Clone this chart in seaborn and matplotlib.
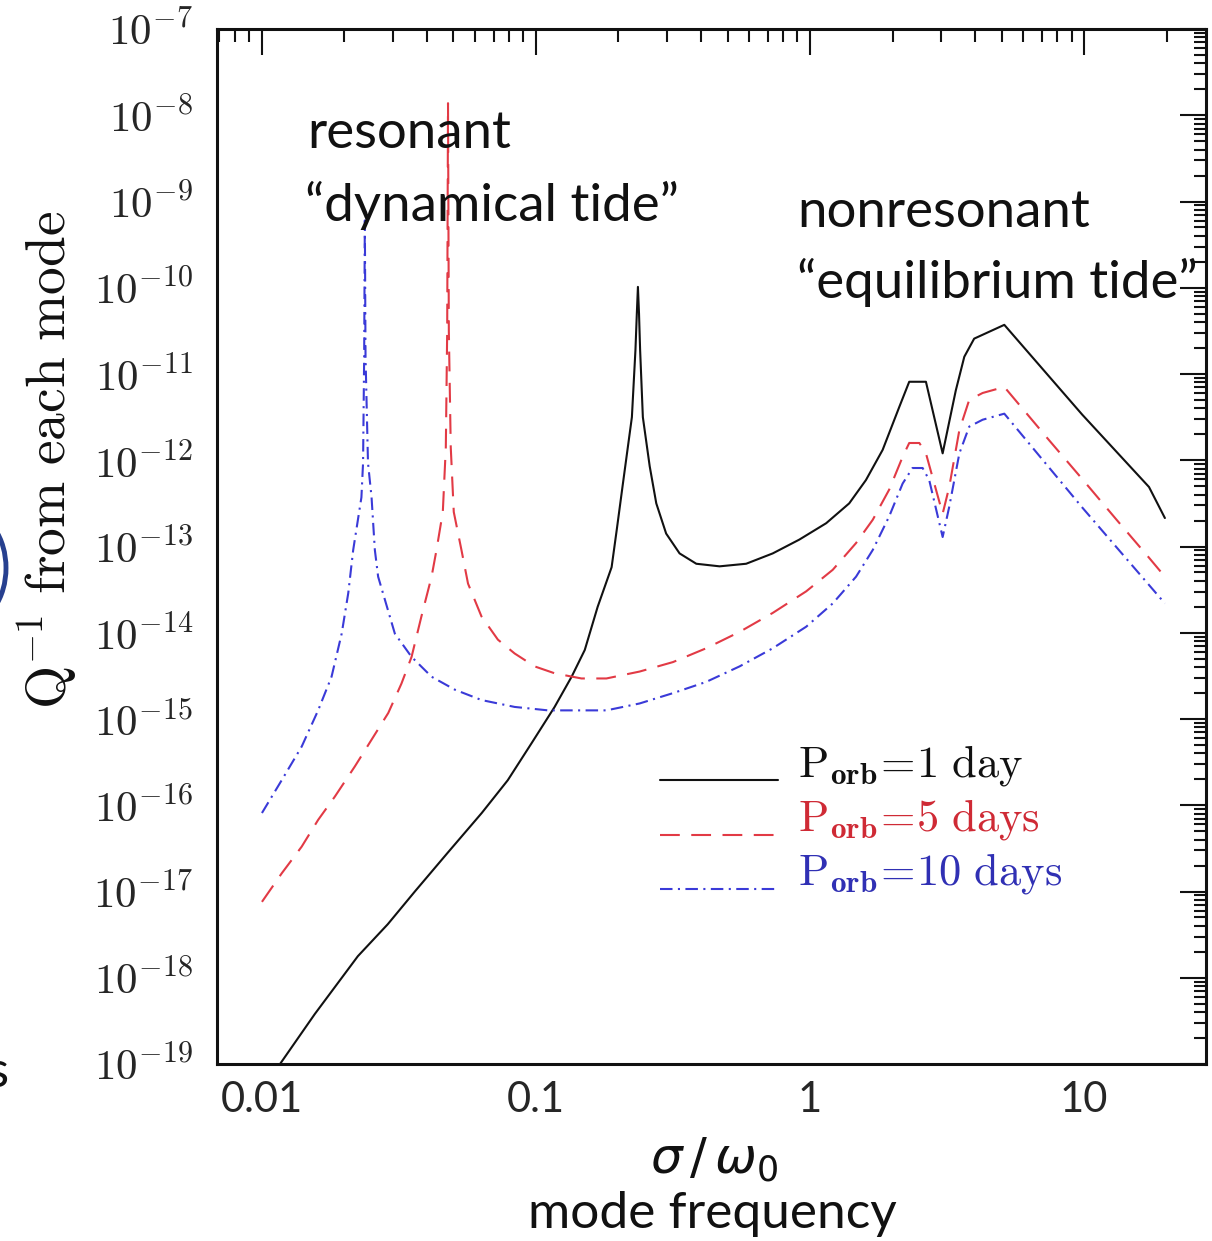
import numpy as np
import pandas as pd
import matplotlib
matplotlib.use("Agg")
import matplotlib.pyplot as plt
import seaborn as sns
from matplotlib.ticker import LogLocator, NullFormatter
from matplotlib.patches import Ellipse
from matplotlib.legend_handler import HandlerLine2D

# Curves stored as log10(sigma/omega0) and log10(Q^-1) for each orbital period
logx_1day = [-2.000, -1.934, -1.807, -1.650, -1.541, -1.442, -1.322, -1.198, -1.103,
             -1.016, -0.932, -0.870, -0.822, -0.775, -0.724, -0.705, -0.684, -0.650,
             -0.637, -0.632, -0.628, -0.624, -0.620, -0.610, -0.585, -0.561, -0.525,
             -0.476, -0.415, -0.330, -0.233, -0.136, -0.039, 0.059, 0.143, 0.204,
             0.265, 0.326, 0.362, 0.423, 0.484, 0.532, 0.563, 0.599, 0.709, 0.993,
             1.237, 1.295]
logq_1day = [-19.31, -19.00, -18.42, -17.75, -17.38, -17.00, -16.55, -16.09, -15.71,
             -15.28, -14.86, -14.51, -14.20, -13.70, -13.24, -12.80, -12.30, -11.50,
             -10.72, -10.30, -9.99, -10.30, -10.72, -11.50, -12.07, -12.50, -12.85,
             -13.08, -13.20, -13.23, -13.20, -13.08, -12.92, -12.73, -12.50, -12.23,
             -11.88, -11.38, -11.09, -11.09, -11.92, -11.19, -10.80, -10.59, -10.43,
             -11.47, -12.31, -12.67]

logx_5day = [-2.000, -1.928, -1.855, -1.795, -1.734, -1.661, -1.600, -1.539, -1.491,
             -1.454, -1.418, -1.381, -1.363, -1.340, -1.329, -1.324, -1.321, -1.318,
             -1.311, -1.300, -1.272, -1.248, -1.199, -1.139, -1.078, -1.005, -0.932,
             -0.834, -0.743, -0.622, -0.500, -0.379, -0.257, -0.136, -0.014, 0.083,
             0.168, 0.229, 0.289, 0.338, 0.362, 0.399, 0.423, 0.484, 0.508, 0.545,
             0.581, 0.630, 0.709, 0.873, 0.994, 1.116, 1.237, 1.295]
logq_5day = [-17.12, -16.79, -16.48, -16.17, -15.90, -15.55, -15.24, -14.93, -14.59,
             -14.28, -13.81, -13.35, -13.04, -12.60, -11.85, -10.50, -7.86, -10.50,
             -11.85, -12.60, -13.04, -13.43, -13.81, -14.08, -14.24, -14.39, -14.47,
             -14.53, -14.53, -14.45, -14.34, -14.18, -13.99, -13.77, -13.52, -13.27,
             -12.96, -12.69, -12.34, -11.96, -11.80, -11.80, -11.92, -12.62, -12.31,
             -11.65, -11.30, -11.22, -11.15, -11.77, -12.22, -12.68, -13.13, -13.35]

logx_10day = [-2.000, -1.928, -1.855, -1.795, -1.746, -1.709, -1.685, -1.667, -1.637,
              -1.631, -1.627, -1.6245, -1.622, -1.613, -1.600, -1.588, -1.576, -1.515,
              -1.454, -1.381, -1.296, -1.199, -1.078, -0.956, -0.834, -0.743, -0.622,
              -0.500, -0.379, -0.257, -0.136, -0.014, 0.083, 0.168, 0.229, 0.289,
              0.338, 0.374, 0.411, 0.435, 0.484, 0.508, 0.545, 0.581, 0.630, 0.709,
              0.994, 1.295]
logq_10day = [-16.09, -15.71, -15.32, -14.90, -14.51, -14.01, -13.54, -13.04, -12.43,
              -12.03, -10.80, -9.22, -10.80, -12.03, -12.43, -13.04, -13.35, -14.01,
              -14.28, -14.51, -14.66, -14.78, -14.86, -14.90, -14.90, -14.90, -14.82,
              -14.70, -14.57, -14.39, -14.18, -13.93, -13.66, -13.35, -13.04, -12.65,
              -12.27, -12.09, -12.09, -12.23, -12.89, -12.54, -11.92, -11.61, -11.53,
              -11.46, -12.55, -13.66]

periods = ["1", "5", "10"]
legend_labels = [r"$\mathrm{P}_{\mathbf{orb}}\!=\!\mathrm{1\ day}$",
                 r"$\mathrm{P}_{\mathbf{orb}}\!=\!\mathrm{5\ days}$",
                 r"$\mathrm{P}_{\mathbf{orb}}\!=\!\mathrm{10\ days}$"]
xtick_values = [0.01, 0.1, 1, 10]
xtick_labels = ["0.01", "0.1", "1", "10"]
ytick_exponents = list(range(-19, -6))

line_colors = {"1": "#111111", "5": "#e23a45", "10": "#3a3ad8"}
text_colors = ["#111111", "#cf2a35", "#3030b4"]

frames = []
for p, lx, lq in [("1", logx_1day, logq_1day), ("5", logx_5day, logq_5day),
                  ("10", logx_10day, logq_10day)]:
    frames.append(pd.DataFrame({"sigma": 10.0 ** np.array(lx),
                                "Q": 10.0 ** np.array(lq),
                                "period": p}))
df = pd.concat(frames, ignore_index=True)

sns.set_theme(style="white")
plt.rcParams["mathtext.fontset"] = "cm"
plt.rcParams["font.family"] = ["DejaVu Sans"]

W, H = 1212, 1241
fig = plt.figure(figsize=(W / 100, H / 100), dpi=100)
ax = fig.add_axes([217 / W, 1 - 1064 / H, (1206 - 217) / W, (1064 - 29) / H])

sns.lineplot(data=df, x="sigma", y="Q", hue="period", style="period",
             hue_order=periods, style_order=periods, palette=line_colors,
             dashes={"1": "", "5": (9.5, 5.5), "10": (6, 2.6, 1, 2.6)},
             estimator=None, sort=False, linewidth=1.5, ax=ax, legend=True)

ax.set_xscale("log")
ax.set_yscale("log")
ax.set_xlim(10 ** -2.164, 10 ** 1.445)
ax.set_ylim(1e-19, 1e-7)

ax.set_xticks(xtick_values, xtick_labels, fontsize=30, fontfamily="Lato")
ax.set_yticks([10.0 ** e for e in ytick_exponents],
              [rf"$10^{{{e}}}$" for e in ytick_exponents], fontsize=31)
ax.xaxis.set_minor_locator(LogLocator(base=10, subs=np.arange(2, 10), numticks=100))
ax.yaxis.set_minor_locator(LogLocator(base=10, subs=np.arange(2, 10), numticks=100))
ax.xaxis.set_minor_formatter(NullFormatter())
ax.yaxis.set_minor_formatter(NullFormatter())

ax.tick_params(which="both", direction="in", top=True, right=True,
               color="#111111", width=1.5)
ax.tick_params(which="major", length=19)
ax.tick_params(which="minor", length=9)
ax.tick_params(axis="x", which="major", pad=12)
ax.tick_params(axis="y", which="major", pad=17)
for s in ax.spines.values():
    s.set_linewidth(2.2)
    s.set_color("#111111")

ax.set_xlabel("")
ax.set_ylabel("")


class BaselineLine(HandlerLine2D):
    """Legend line drawn level with the label baseline."""

    def create_artists(self, legend, orig_handle, xdescent, ydescent, width,
                       height, fontsize, trans):
        artists = super().create_artists(legend, orig_handle, xdescent, ydescent,
                                         width, height, fontsize, trans)
        for a in artists:
            a.set_ydata(np.asarray(a.get_ydata(), dtype=float) - 0.45 * fontsize)
        return artists


handles, _ = ax.get_legend_handles_labels()
handles = handles[-3:]
ax.legend(handles, legend_labels, loc="upper left",
          bbox_to_anchor=(0.448, (1064 - 742) / 1035), borderpad=0,
          borderaxespad=0, handlelength=2.65, handletextpad=0.45,
          labelspacing=0.2, frameon=False, fontsize=32, labelcolor=text_colors,
          handler_map={h: BaselineLine() for h in handles})

# annotations
note_kw = dict(transform=ax.transAxes, fontsize=38, fontfamily="Lato",
               va="baseline", ha="left", color="#111111")
ax.text((307 - 217) / 989, (1064 - 148) / 1035, "resonant", **note_kw)
ax.text((305 - 217) / 989, (1064 - 221) / 1035, "\u201cdynamical tide\u201d", **note_kw)
ax.text((797 - 217) / 989, (1064 - 227) / 1035, "nonresonant", **note_kw)
ax.text((797 - 217) / 989, (1064 - 298) / 1035, "\u201cequilibrium tide\u201d", **note_kw)

# axis titles
fig.text(47 / W, 1 - 460 / H, r"$\mathrm{Q^{-1}\ from\ each\ mode}$", rotation=90,
         ha="center", va="center", fontsize=40, color="#111111")
fig.text(714 / W, 1 - 1160 / H, r"$\sigma\,/\,\omega_0$", math_fontfamily="dejavusans",
         ha="center", va="center", fontsize=36, color="#111111")
fig.text(712 / W, 1 - 1228 / H, "mode frequency", fontfamily="Lato", ha="center",
         va="baseline", fontsize=37, color="#111111")

# slide fragments at the left edge (pixel coordinates)
fig.text(8 / W, 1 - 1073 / H, "s", fontfamily="Lato", ha="right", va="center",
         fontsize=37, color="#111111")
fig.add_artist(Ellipse((-32, H - 568), 76, 110, transform=None, fill=False,
                       edgecolor="#27408f", linewidth=3.5))

fig.savefig("out.png", dpi=100, facecolor="white")
